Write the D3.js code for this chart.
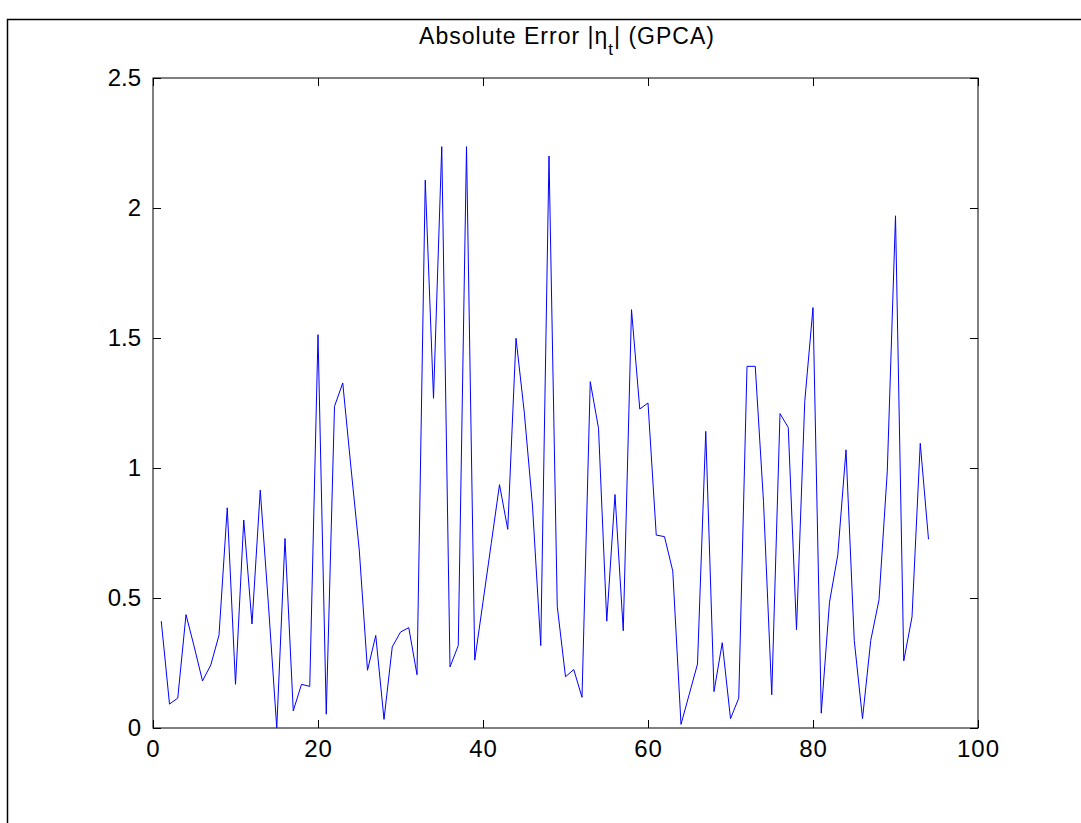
<!DOCTYPE html>
<html>
<head>
<meta charset="utf-8">
<script src="https://cdn.jsdelivr.net/npm/d3@7"></script>
<style>
  body { margin: 0; background: #fff; }
  svg { display: block; font-family: "Liberation Sans", Arial, Helvetica, sans-serif; }
</style>
</head>
<body>
<svg width="1081" height="823"></svg>
<script>
//data (t = 1..94)
const errValues = [
  0.411, 0.092, 0.115, 0.436, 0.312, 0.181, 0.242, 0.357, 0.847, 0.168,
  0.800, 0.400, 0.915, 0.470, 0.000, 0.729, 0.066, 0.168, 0.160, 1.513,
  0.053, 1.237, 1.327, 1.000, 0.685, 0.222, 0.356, 0.033, 0.312, 0.369,
  0.386, 0.205, 2.107, 1.268, 2.236, 0.235, 0.317, 2.236, 0.261, 0.485,
  0.710, 0.936, 0.764, 1.499, 1.215, 0.854, 0.317, 2.200, 0.468, 0.197,
  0.225, 0.118, 1.332, 1.153, 0.411, 0.898, 0.374, 1.609, 1.227, 1.250,
  0.742, 0.736, 0.604, 0.014, 0.130, 0.246, 1.141, 0.140, 0.328, 0.036,
  0.115, 1.391, 1.391, 0.870, 0.128, 1.209, 1.156, 0.378, 1.256, 1.617,
  0.057, 0.484, 0.665, 1.070, 0.337, 0.036, 0.337, 0.493, 0.985, 1.970,
  0.258, 0.427, 1.095, 0.726
];
const xTicks = [0, 20, 40, 60, 80, 100];
const yTicks = [0, 0.5, 1, 1.5, 2, 2.5];

const svg = d3.select('svg');
const plotL = 153, plotR = 978, plotT = 78, plotB = 728;

//outer frame (left and top edges visible)
svg.append('path')
  .attr('d', 'M7.5,823 V19.5 H1081')
  .attr('fill', 'none')
  .attr('stroke', '#000')
  .attr('stroke-width', 1.5);

const x = d3.scaleLinear().domain([0, 100]).range([plotL, plotR]);
const y = d3.scaleLinear().domain([0, 2.5]).range([plotB, plotT]);

//box
svg.append('rect')
  .attr('x', plotL).attr('y', plotT)
  .attr('width', plotR - plotL).attr('height', plotB - plotT)
  .attr('fill', 'none').attr('stroke', '#000').attr('stroke-width', 1);

const tickLen = 8;
const fmt = d => String(d);

//bottom axis, ticks pointing in
const xb = svg.append('g').attr('transform', `translate(0,${plotB})`)
  .call(d3.axisBottom(x).tickValues(xTicks).tickSizeInner(-tickLen).tickSizeOuter(0).tickPadding(12).tickFormat(fmt));
//top axis ticks
const xt = svg.append('g').attr('transform', `translate(0,${plotT})`)
  .call(d3.axisTop(x).tickValues(xTicks).tickSizeInner(-tickLen).tickSizeOuter(0).tickFormat(''));
//left axis
const yl = svg.append('g').attr('transform', `translate(${plotL},0)`)
  .call(d3.axisLeft(y).tickValues(yTicks).tickSizeInner(-tickLen).tickSizeOuter(0).tickPadding(12).tickFormat(fmt));
//right axis ticks
const yr = svg.append('g').attr('transform', `translate(${plotR},0)`)
  .call(d3.axisRight(y).tickValues(yTicks).tickSizeInner(-tickLen).tickSizeOuter(0).tickFormat(''));

[xb, xt, yl, yr].forEach(g => {
  g.select('.domain').remove();
  g.selectAll('line').attr('stroke', '#000');
  g.selectAll('text').attr('fill', '#000').style('font-size', '24px')
    .style('font-family', '"Liberation Sans", Arial, Helvetica, sans-serif');
});
xb.selectAll('text').attr('dy', '0.71em').style('letter-spacing', '1px');

//the series
const line = d3.line()
  .x((d, i) => x(i + 1))
  .y(d => y(d));

svg.append('path')
  .datum(errValues)
  .attr('fill', 'none')
  .attr('stroke', '#0000ff')
  .attr('stroke-width', 1)
  .attr('stroke-linejoin', 'miter')
  .attr('d', line);

//title
const title = svg.append('text')
  .attr('x', 567)
  .attr('y', 44)
  .attr('text-anchor', 'middle')
  .style('font-size', '23px')
  .style('letter-spacing', '1px')
  .attr('fill', '#000');
title.append('tspan').text('Absolute Error |\u03b7');
title.append('tspan').attr('dy', 11).style('font-size', '17px').text('t');
title.append('tspan').attr('dy', -11).text('| (GPCA)');
</script>
</body>
</html>
